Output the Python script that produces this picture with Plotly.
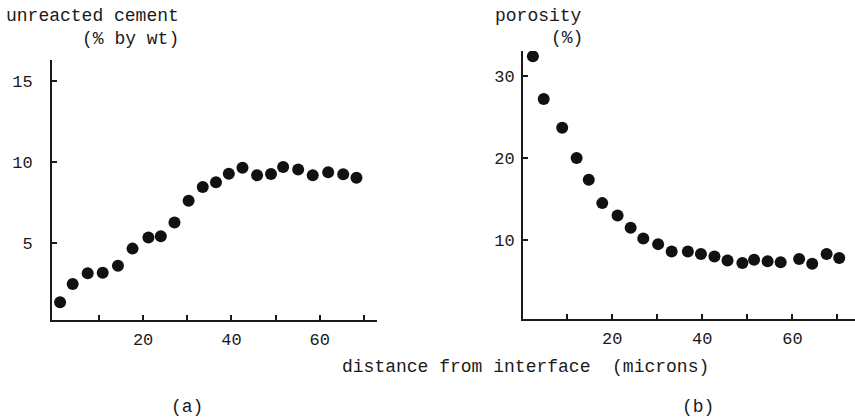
import plotly.graph_objects as go

# ---- data ----
dist_a = [1.2, 4.05, 7.45, 10.85, 14.3, 17.6, 21.2, 24.0, 27.1, 30.3, 33.5,
          36.5, 39.4, 42.5, 45.8, 48.95, 51.7, 55.1, 58.4, 61.9, 65.3, 68.3]
cement = [1.37, 2.5, 3.15, 3.19, 3.62, 4.67, 5.35, 5.43, 6.27, 7.62, 8.46,
          8.75, 9.28, 9.65, 9.18, 9.26, 9.69, 9.53, 9.18, 9.37, 9.24, 9.03]

dist_b = [2.4, 4.8, 8.9, 12.1, 14.8, 17.8, 21.2, 24.1, 26.9, 30.2, 33.2, 36.8,
          39.7, 42.7, 45.6, 48.9, 51.5, 54.5, 57.4, 61.5, 64.4, 67.6, 70.4]
porosity = [32.4, 27.2, 23.7, 20.0, 17.35, 14.5, 13.0, 11.5, 10.2, 9.5, 8.6, 8.6,
            8.3, 8.0, 7.5, 7.2, 7.6, 7.4, 7.3, 7.7, 7.1, 8.3, 7.8]

x_tickvals = [10, 20, 30, 40, 50, 60, 70]
x_ticktext = ["", "20", "", "40", "", "60", ""]
ya_tickvals = [5, 10, 15]
yb_tickvals = [10, 20, 30]

FONT = "Liberation Mono, Courier New, monospace"
INK = "#1a1a1a"
W, H = 855, 419

fig = go.Figure()
fig.add_trace(go.Scatter(x=dist_a, y=cement, mode="markers", xaxis="x", yaxis="y",
                         marker=dict(size=12, color="#111111"), showlegend=False))
fig.add_trace(go.Scatter(x=dist_b, y=porosity, mode="markers", xaxis="x2", yaxis="y2",
                         marker=dict(size=12, color="#111111"), showlegend=False))

axis_common = dict(showgrid=False, zeroline=False, showline=True, linecolor=INK,
                   linewidth=2, ticks="inside", ticklen=5, tickwidth=1.5,
                   tickcolor=INK, tickfont=dict(family=FONT, size=17, color=INK))

def px(x):
    return x / W

def py(y):
    return 1 - y / H

fig.update_layout(
    width=W, height=H,
    margin=dict(l=0, r=0, t=0, b=0),
    paper_bgcolor="white", plot_bgcolor="white",
    font=dict(family=FONT, color=INK),
    xaxis=dict(domain=[px(52), px(377)], range=[-0.63, 72.95], anchor="y",
               tickvals=x_tickvals, ticktext=x_ticktext, ticklabelstandoff=3,
               **axis_common),
    yaxis=dict(domain=[py(320), py(60)], range=[0.28, 16.27], anchor="x",
               tickvals=ya_tickvals, ticklabelstandoff=14, **axis_common),
    xaxis2=dict(domain=[px(523), px(855)], range=[0.2, 73.9], anchor="y2",
                tickvals=x_tickvals, ticktext=x_ticktext, ticklabelstandoff=3,
                **axis_common),
    yaxis2=dict(domain=[py(319), py(51)], range=[0.37, 33.05], anchor="x2",
                tickvals=yb_tickvals, ticklabelstandoff=3, **axis_common),
)

def note(text, x, y, xanchor="left"):
    fig.add_annotation(text=text, x=px(x), y=py(y), xref="paper", yref="paper",
                       xanchor=xanchor, yanchor="middle", showarrow=False,
                       font=dict(family=FONT, size=18, color=INK))

note("unreacted cement", 4, 16)
note("(% by wt)", 80, 39)
note("porosity", 493, 16)
note("(%)", 549, 38)
note("distance from interface\u00a0\u00a0(microns)", 525, 367, "center")
note("(a)", 187, 407, "center")
note("(b)", 698, 407, "center")

fig.write_html("out.html")
